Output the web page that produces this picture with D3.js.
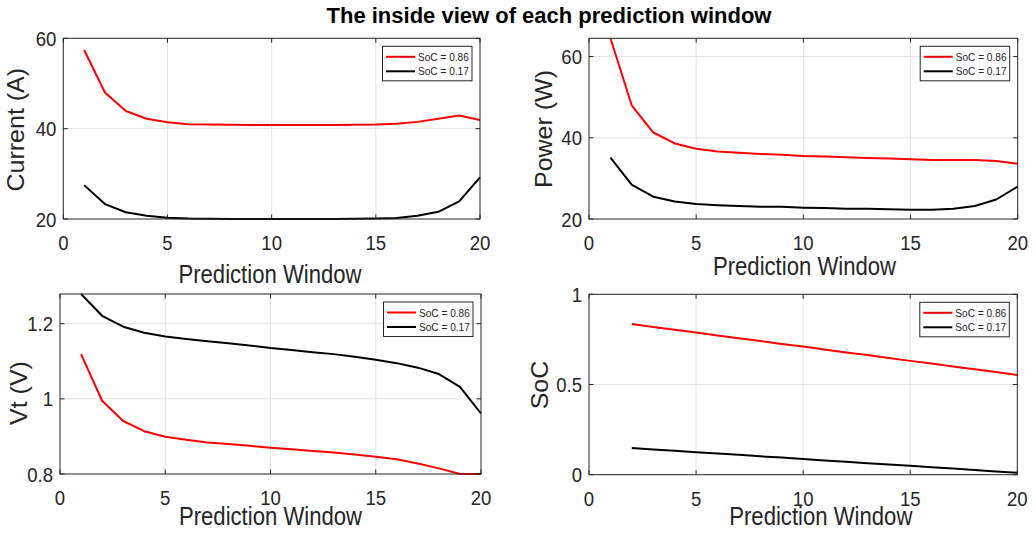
<!DOCTYPE html>
<html>
<head>
<meta charset="utf-8">
<script src="https://cdn.jsdelivr.net/npm/d3@7"></script>
<style>
  html, body { margin: 0; padding: 0; background: #fff; }
  svg { display: block; font-family: "Liberation Sans", Arial, Helvetica, sans-serif; }
</style>
</head>
<body>
<svg id="chart" width="1035" height="537"></svg>
<script>
// Prediction-window index for each step
const windowSteps = d3.range(1, 21);
const socSteps = d3.range(2, 21);

// Current (A)
const current86 = [57.4, 48.0, 43.9, 42.2, 41.4, 41.0, 40.9, 40.85, 40.8, 40.8, 40.8, 40.8, 40.8, 40.85, 40.9, 41.1, 41.5, 42.2, 42.9, 41.9];
const current17 = [27.5, 23.3, 21.5, 20.7, 20.3, 20.1, 20.05, 20.0, 20.0, 20.0, 20.0, 20.0, 20.0, 20.05, 20.1, 20.2, 20.7, 21.6, 23.9, 29.2];

// Power (W)
const power86 = [64.5, 47.9, 41.3, 38.6, 37.3, 36.6, 36.3, 36.0, 35.8, 35.5, 35.4, 35.2, 35.0, 34.9, 34.7, 34.5, 34.5, 34.5, 34.3, 33.6];
const power17 = [35.1, 28.4, 25.5, 24.3, 23.7, 23.4, 23.2, 23.0, 23.0, 22.8, 22.7, 22.5, 22.5, 22.4, 22.3, 22.3, 22.5, 23.2, 24.8, 28.0];

// Terminal voltage (V)
const vt86 = [1.119, 0.995, 0.941, 0.914, 0.899, 0.891, 0.884, 0.880, 0.875, 0.870, 0.866, 0.861, 0.857, 0.852, 0.846, 0.839, 0.828, 0.815, 0.800, 0.800];
const vt17 = [1.279, 1.221, 1.192, 1.176, 1.166, 1.159, 1.153, 1.148, 1.142, 1.135, 1.130, 1.124, 1.119, 1.112, 1.104, 1.095, 1.083, 1.066, 1.032, 0.961];

// State of charge (steps 2..20)
const soc86 = [0.835, 0.819, 0.804, 0.788, 0.772, 0.757, 0.741, 0.725, 0.710, 0.694, 0.678, 0.663, 0.647, 0.631, 0.616, 0.600, 0.584, 0.569, 0.553];
const soc17 = [0.148, 0.140, 0.133, 0.125, 0.117, 0.110, 0.102, 0.095, 0.087, 0.079, 0.072, 0.064, 0.057, 0.049, 0.041, 0.034, 0.026, 0.018, 0.011];

// Tick labels
const xTicks = [0, 5, 10, 15, 20];
const currentTicks = [20, 40, 60];
const powerTicks = [20, 40, 60];
const vtTicks = [0.8, 1, 1.2];
const socTicks = [0, 0.5, 1];

const seriesNames = ["SoC = 0.86", "SoC = 0.17"];
const seriesColors = ["#ff0000", "#000000"];

const titleText = "The inside view of each prediction window";
const xLabel = "Prediction Window";

const svg = d3.select("#chart");
const axisColor = "#262626";
const gridColor = "#e3e3e3";
const sx = 0.885; // horizontal glyph squeeze

function hText(g, x, y, txt, size, anchor, extra) {
  return g.append("text")
    .attr("transform", `translate(${x},${y}) scale(${sx},1)`)
    .attr("text-anchor", anchor)
    .attr("font-size", size)
    .attr("fill", axisColor)
    .text(txt);
}

const panels = [
  { box: [63.3, 480, 38.3, 219], yDomain: [20, 60], yTicks: currentTicks, fmt: d => d,
    xs: windowSteps, s1: current86, s2: current17, yLabel: "Current (A)",
    xTickBase: 250, xLabelPos: [270, 283.3], yLabelPos: [23.5, 129.7] },
  { box: [589, 1017.7, 38.3, 219], yDomain: [20, 64.5], yTicks: powerTicks, fmt: d => d,
    xs: windowSteps, s1: power86, s2: power17, yLabel: "Power (W)",
    xTickBase: 250, xLabelPos: [804.5, 275], yLabelPos: [551.5, 129] },
  { box: [60, 481, 294, 474], yDomain: [0.8, 1.279], yTicks: vtTicks, fmt: d => d,
    xs: windowSteps, s1: vt86, s2: vt17, yLabel: "Vt (V)",
    xTickBase: 505, xLabelPos: [270.5, 525], yLabelPos: [26.5, 393] },
  { box: [589, 1017.3, 294.3, 474.7], yDomain: [0, 1], yTicks: socTicks, fmt: d => d,
    xs: socSteps, s1: soc86, s2: soc17, yLabel: "SoC",
    xTickBase: 505.7, xLabelPos: [820.8, 525], yLabelPos: [548, 385] }
];

panels.forEach(p => {
  const [l, r, t, b] = p.box;
  const x = d3.scaleLinear().domain([0, 20]).range([l, r]);
  const y = d3.scaleLinear().domain(p.yDomain).range([b, t]);
  const g = svg.append("g");

  // grid
  g.append("g").selectAll("line").data(xTicks.slice(1, -1)).join("line")
    .attr("x1", d => x(d)).attr("x2", d => x(d)).attr("y1", t).attr("y2", b)
    .attr("stroke", gridColor).attr("stroke-width", 1);
  g.append("g").selectAll("line").data(p.yTicks.filter(d => y(d) > t + 1 && y(d) < b - 1)).join("line")
    .attr("x1", l).attr("x2", r).attr("y1", d => y(d)).attr("y2", d => y(d))
    .attr("stroke", gridColor).attr("stroke-width", 1);

  // series
  const line = d3.line().x((d, i) => x(p.xs[i])).y(d => y(d));
  [p.s1, p.s2].forEach((s, k) => {
    g.append("path").datum(s).attr("d", line)
      .attr("fill", "none").attr("stroke", seriesColors[k])
      .attr("stroke-width", 2).attr("stroke-linejoin", "round");
  });

  // box and inward ticks
  g.append("rect").attr("x", l).attr("y", t).attr("width", r - l).attr("height", b - t)
    .attr("fill", "none").attr("stroke", axisColor).attr("stroke-width", 1);
  const tl = 4.5;
  xTicks.forEach(d => {
    g.append("line").attr("x1", x(d)).attr("x2", x(d)).attr("y1", b).attr("y2", b - tl).attr("stroke", axisColor);
    g.append("line").attr("x1", x(d)).attr("x2", x(d)).attr("y1", t).attr("y2", t + tl).attr("stroke", axisColor);
    hText(g, x(d), p.xTickBase, d, 21, "middle");
  });
  p.yTicks.forEach(d => {
    g.append("line").attr("x1", l).attr("x2", l + tl).attr("y1", y(d)).attr("y2", y(d)).attr("stroke", axisColor);
    g.append("line").attr("x1", r).attr("x2", r - tl).attr("y1", y(d)).attr("y2", y(d)).attr("stroke", axisColor);
    hText(g, l - 7, y(d) + 7.5, p.fmt(d), 21, "end");
  });

  // axis labels
  hText(g, p.xLabelPos[0], p.xLabelPos[1], xLabel, 25, "middle");
  g.append("text")
    .attr("transform", `translate(${p.yLabelPos[0]},${p.yLabelPos[1]}) scale(0.92,1) rotate(-90)`)
    .attr("text-anchor", "middle").attr("font-size", 25).attr("fill", axisColor)
    .text(p.yLabel);

  // legend
  const lw = 89.5, lh = 34.5;
  const lx = r - 8 - lw, ly = t + 8;
  const lg = g.append("g");
  lg.append("rect").attr("x", lx).attr("y", ly).attr("width", lw).attr("height", lh)
    .attr("fill", "#fff").attr("stroke", axisColor).attr("stroke-width", 1);
  seriesNames.forEach((name, k) => {
    const cy = ly + 10.5 + k * 14.5;
    lg.append("line").attr("x1", lx + 3.5).attr("x2", lx + 32.5).attr("y1", cy).attr("y2", cy)
      .attr("stroke", seriesColors[k]).attr("stroke-width", 2);
    lg.append("text")
      .attr("transform", `translate(${lx + 35.5},${cy + 4}) scale(0.92,1)`)
      .attr("font-size", 11).attr("fill", axisColor).text(name);
  });
});

// figure title
svg.append("text")
  .attr("x", 549).attr("y", 23)
  .attr("text-anchor", "middle")
  .attr("font-size", 22).attr("font-weight", "bold").attr("fill", "#000")
  .text(titleText);
</script>
</body>
</html>
